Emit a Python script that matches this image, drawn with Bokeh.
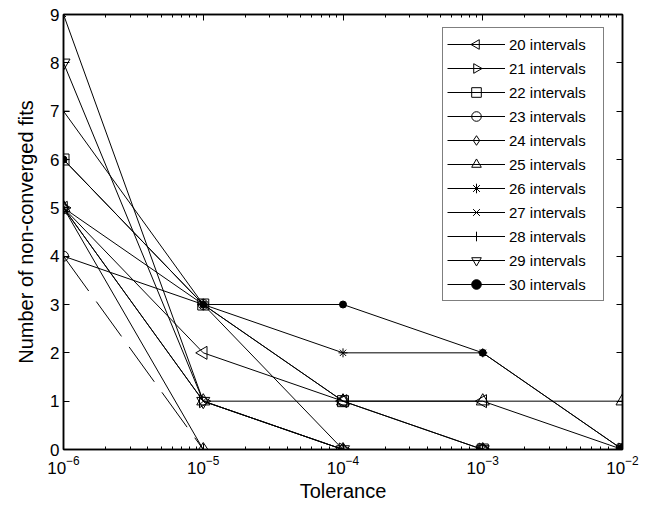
import math
from bokeh.plotting import figure
from bokeh.models import (Range1d, LogAxis, LinearAxis, LogTicker, FixedTicker,
                          Legend, LegendItem, ColumnDataSource, CustomJS)
from bokeh.embed import file_html
from bokeh.resources import INLINE

tolerance = [1e-6, 1e-5, 1e-4, 1e-3, 1e-2]
labels = ["20 intervals", "21 intervals", "22 intervals", "23 intervals",
          "24 intervals", "25 intervals", "26 intervals", "27 intervals",
          "28 intervals", "29 intervals", "30 intervals"]
s20 = [5, 2, 1, 1, 0]
s21 = [5, 1, 0, 0, 0]
s22 = [6, 3, 1, 0, 0]
s23 = [4, 3, 1, 0, 0]
s24 = [5, 0, 0, 0, 0]
s25 = [5, 1, 1, 1, 1]
s26 = [5, 3, 2, 2, 0]
s27 = [9, 1, 0, 0, 0]
s28 = [7, 3, 0, 0, 0]
s29 = [8, 1, 0, 0, 0]
s30 = [6, 3, 3, 2, 0]
series = [s20, s21, s22, s23, s24, s25, s26, s27, s28, s29, s30]
dash_x = [1e-6, 1e-5]
dash_y = [4, 0]
y_ticks = [0, 1, 2, 3, 4, 5, 6, 7, 8, 9]


def tri_js(direction):
    return """
const d = cb_data;
const ctx = d.ctx, i = d.i, r = d.r, visuals = d.visuals;
const h = r * Math.sqrt(3);
const a = h / 3;
const s = %d;
ctx.beginPath();
ctx.moveTo(-s * a, -r);
ctx.lineTo(-s * a, r);
ctx.lineTo(-s * (a - h), 0);
ctx.closePath();
if (visuals && visuals.line && typeof visuals.line.apply === "function") {
  visuals.line.apply(ctx, i);
} else {
  ctx.strokeStyle = "black"; ctx.lineWidth = 1; ctx.stroke();
}
""" % direction


marker_defs = {"@tri_left": CustomJS(code=tri_js(-1)),
               "@tri_right": CustomJS(code=tri_js(1))}

# marker, size, filled
styles = [
    ("@tri_left", 13, False),
    ("@tri_right", 13, False),
    ("square", 11, False),
    ("circle", 10, False),
    ("diamond", 14, False),
    ("triangle", 13, False),
    ("asterisk", 9, False),
    ("x", 7, False),
    ("cross", 12, False),
    ("inverted_triangle", 13, False),
    ("circle", 7, True),
]

FONT = "Liberation Sans"

p = figure(width=646, height=506, x_axis_type="log",
           x_range=Range1d(1e-6, 1e-2), y_range=Range1d(0, 9),
           output_backend="svg", toolbar_location=None,
           min_border_left=63, min_border_right=24, min_border_top=14,
           min_border_bottom=57)
p.xgrid.visible = False
p.ygrid.visible = False
p.outline_line_color = "black"
p.outline_line_width = 1.5
p.background_fill_color = "white"
p.border_fill_color = "white"

xt = LogTicker(mantissas=[1], num_minor_ticks=10)
yt = FixedTicker(ticks=y_ticks)

for ax in [p.xaxis[0], p.yaxis[0]]:
    ax.major_tick_in = 6
    ax.major_tick_out = 0
    ax.minor_tick_in = 3
    ax.minor_tick_out = 0
    ax.axis_line_width = 1.5
    ax.major_tick_line_width = 1
    ax.major_label_text_font = FONT
    ax.major_label_text_font_size = "17px"
    ax.major_label_text_color = "black"
    ax.axis_label_text_font = FONT
    ax.axis_label_text_font_size = "20px"
    ax.axis_label_text_font_style = "normal"
    ax.axis_label_text_color = "black"
p.xaxis[0].ticker = xt
p.yaxis[0].ticker = yt
p.yaxis[0].minor_tick_line_color = None
p.xaxis[0].axis_label = "Tolerance"
p.yaxis[0].axis_label = "Number of non-converged fits"
p.xaxis[0].major_label_standoff = 6
p.yaxis[0].major_label_standoff = 4
p.xaxis[0].axis_label_standoff = 3
p.yaxis[0].axis_label_standoff = 10

top = LogAxis(ticker=LogTicker(mantissas=[1], num_minor_ticks=10))
right = LinearAxis(ticker=FixedTicker(ticks=y_ticks))
for ax in [top, right]:
    ax.major_tick_in = 6
    ax.major_tick_out = 0
    ax.minor_tick_in = 3
    ax.minor_tick_out = 0
    ax.major_label_text_font_size = "1px"
    ax.major_label_text_alpha = 0
    ax.major_label_standoff = 0
    ax.axis_line_width = 1.5
right.minor_tick_line_color = None
p.add_layout(top, "above")
p.add_layout(right, "right")

items = []
for lab, ys, (mk, sz, filled) in zip(labels, series, styles):
    src = ColumnDataSource(dict(x=tolerance, y=ys))
    r1 = p.line("x", "y", source=src, line_color="black", line_width=1)
    kw = dict(defs=marker_defs) if mk.startswith("@") else {}
    r2 = p.scatter("x", "y", source=src, marker=mk, size=sz,
                   line_color="black", line_width=1,
                   fill_color="black" if filled else None, **kw)
    items.append(LegendItem(label=lab, renderers=[r1, r2]))

p.line(dash_x, dash_y, line_color="black", line_width=1, line_dash="43 13")

legend = Legend(items=items, location=(379, 148))
legend.border_line_color = "black"
legend.border_line_width = 1
legend.background_fill_color = "white"
legend.background_fill_alpha = 1
legend.label_text_font = FONT
legend.label_text_font_size = "15px"
legend.label_text_color = "black"
legend.glyph_width = 58
legend.glyph_height = 24
legend.label_height = 20
legend.label_width = 90
legend.label_standoff = 4
legend.spacing = 0
legend.padding = 4
legend.margin = 0
p.add_layout(legend, "center")

open("out.html", "w").write(file_html(p, INLINE))
